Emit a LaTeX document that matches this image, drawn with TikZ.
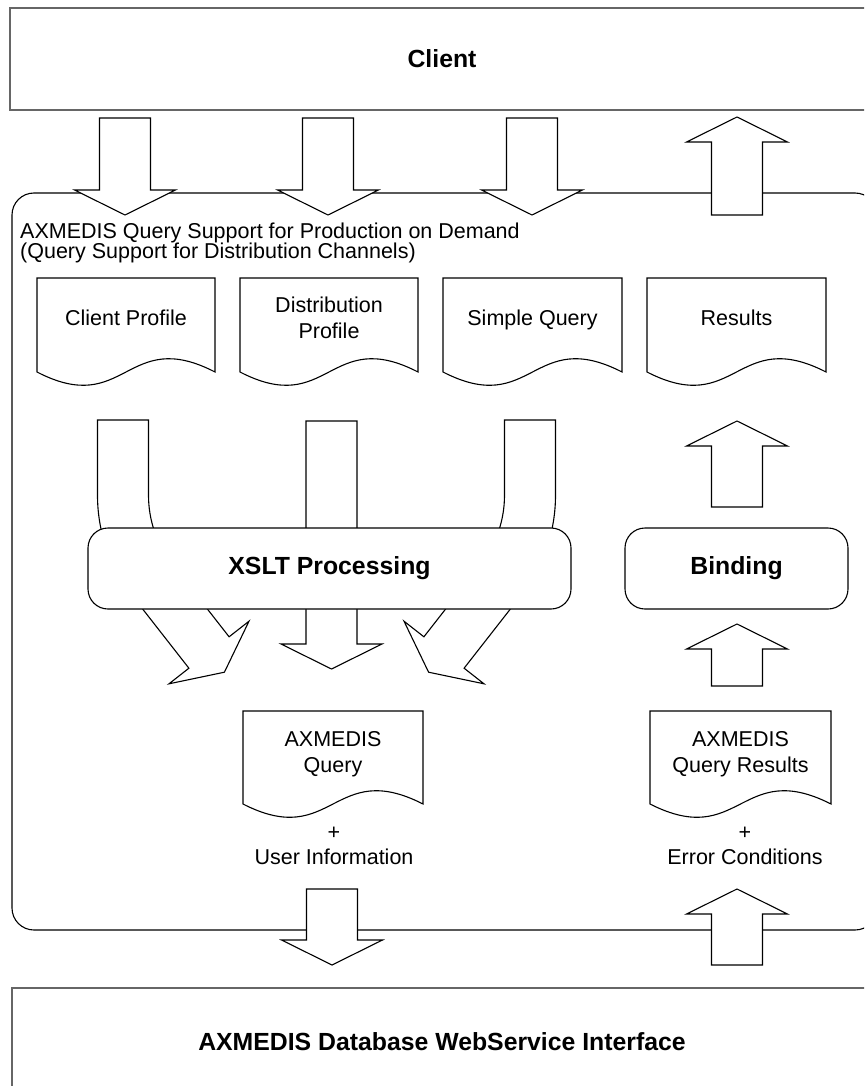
\documentclass[tikz,border=0pt]{standalone}
\usepackage{fontspec}
\setmainfont{Liberation Sans}

% vertical block arrow: centre x, tail y, tip y (y grows downwards)
\newcommand\vblockarrow[3]{%
  \pgfmathsetmacro\arrowheadbase{#3-25*sign(#3-#2)}%
  \draw[blockline] ({#1-25.5},#2) -- ({#1-25.5},\arrowheadbase) -- ({#1-50.5},\arrowheadbase)
    -- (#1,#3) -- ({#1+50.5},\arrowheadbase) -- ({#1+25.5},\arrowheadbase)
    -- ({#1+25.5},#2) -- cycle;}

% block arrow that starts vertical and bends to the lower right
\newcommand\bentblockarrow{%
  \draw[blockline] (97.5,420) -- (97.5,495.3)
    .. controls (97.5,531.7) and (109.6,566.7) .. (132,595.4)
    -- (188.9,668.2) -- (169,683.8) -- (224.4,672.2) -- (249,621.2) -- (229.1,636.8)
    -- (172.2,564) .. controls (156.8,544.3) and (148.5,520.3) .. (148.5,495.3)
    -- (148.5,420) -- cycle;}

% document symbol: left x, top y, width, y of the bottom corners
\newcommand\docshape[4]{%
  \draw[blockline] (#1,#2) -- ({#1+#3},#2) -- ({#1+#3},#4)
    .. controls ({#1+0.5*#3},{#4-46}) and ({#1+0.5*#3},{#4+46}) .. (#1,#4) -- cycle;}

\newcommand\tightlines{\lineskiplimit=-50pt\relax}

\begin{document}
\begin{tikzpicture}[x=1pt,y=-1pt,
  blockline/.style={draw=black,line width=1.1pt,fill=white,line join=miter},
  sysbox/.style={draw=black!60,line width=2.2pt,fill=white,inner sep=0pt},
  roundbox/.style={draw=black,line width=1.1pt,fill=white,rounded corners=20pt,inner sep=0pt},
  lbl/.style={inner sep=0pt,align=center,font=\fontsize{21.5}{26}\selectfont},
  boldlbl/.style={font=\bfseries\fontsize{24.8}{30}\selectfont}]
\useasboundingbox (0,0) rectangle (864,1086);
\clip (0,0) rectangle (864,1086);

% enclosing service area
\draw[blockline,rounded corners=22pt] (12,193) rectangle (877,930);

% arrows between the client, the service and the database
\vblockarrow{125}{118}{215}
\vblockarrow{328}{118}{215}
\vblockarrow{532}{118}{215}
\vblockarrow{737}{215}{117}
\vblockarrow{332}{889}{965}
\vblockarrow{737}{965}{889}

% outer systems
\node[sysbox,boldlbl,minimum width=864pt,minimum height=102pt] (client) at (442,59) {Client};
\node[sysbox,boldlbl,minimum width=860pt,minimum height=107pt] (db) at (442,1041.5) {AXMEDIS Database WebService Interface};

% service title
\node[anchor=north west,inner sep=0pt,align=left,
      font=\fontsize{21.5}{20.5}\selectfont\tightlines] (title) at (20,222.5)
  {AXMEDIS Query Support for Production on Demand\\(Query Support for Distribution Channels)};

% input and output documents
\docshape{37}{278}{178}{372}
\docshape{240}{278}{178}{372}
\docshape{443}{278}{179}{372}
\docshape{647}{278}{179}{372}
\node[lbl,anchor=base] (cprof) at (126,325.5) {Client Profile};
\node[lbl,anchor=north] (dprof) at (329,297.2) {Distribution\\Profile};
\node[lbl,anchor=base] (squery) at (532.5,325.5) {Simple Query};
\node[lbl,anchor=base] (results) at (736.5,325.5) {Results};

\docshape{243}{711}{180}{804}
\docshape{650}{711}{181}{804}
\node[lbl,anchor=north] (axq) at (333,731.5) {AXMEDIS\\Query};
\node[lbl,anchor=north] (axqr) at (740.5,731.5) {AXMEDIS\\Query Results};
\node[lbl,anchor=north,font=\fontsize{21.5}{25.2}\selectfont] (userinfo) at (334,827) {+\\User Information};
\node[lbl,anchor=north,font=\fontsize{21.5}{25.2}\selectfont] (errcond) at (745,827) {+\\Error Conditions};

% transformation arrows (partly hidden behind the processing box)
\bentblockarrow
\begin{scope}[xshift=653pt,xscale=-1]
  \bentblockarrow
\end{scope}
\vblockarrow{331.5}{421}{669}

% binding arrows
\vblockarrow{737}{507}{421}
\vblockarrow{737}{686}{624}

% processing steps
\node[roundbox,boldlbl,minimum width=483pt,minimum height=81pt] (xslt) at (329.5,568.5) {XSLT Processing};
\node[roundbox,boldlbl,minimum width=223pt,minimum height=81pt] (bind) at (736.5,568.5) {Binding};
\end{tikzpicture}
\end{document}
